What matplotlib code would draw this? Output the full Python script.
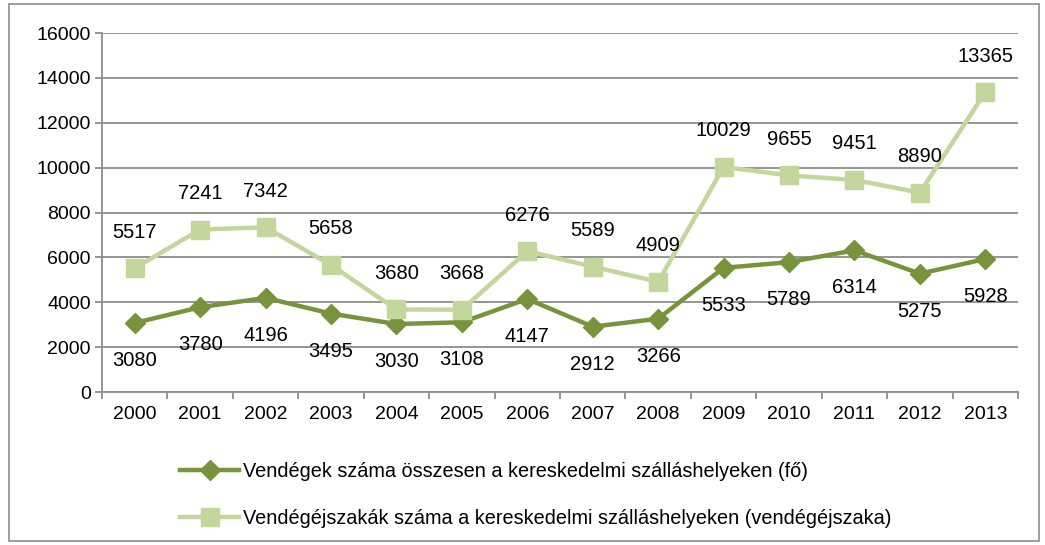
import matplotlib.pyplot as plt
from matplotlib.patches import Rectangle
import numpy as np

plt.rcParams["font.family"] = ["Liberation Sans", "DejaVu Sans"]

years = ["2000", "2001", "2002", "2003", "2004", "2005", "2006",
         "2007", "2008", "2009", "2010", "2011", "2012", "2013"]
guests = [3080, 3780, 4196, 3495, 3030, 3108, 4147,
          2912, 3266, 5533, 5789, 6314, 5275, 5928]
nights = [5517, 7241, 7342, 5658, 3680, 3668, 6276,
          5589, 4909, 10029, 9655, 9451, 8890, 13365]

guests_label = "Vendégek száma összesen a kereskedelmi szálláshelyeken (fő)"
nights_label = "Vendégéjszakák száma a kereskedelmi szálláshelyeken (vendégéjszaka)"

DARK = "#77933C"
LIGHT = "#C3D69B"
GRID = "#8C8C8C"

fig = plt.figure(figsize=(10.45, 5.45), dpi=100)
ax = fig.add_axes([0.0976, 0.2807, 0.8766, 0.6587])

x = np.arange(len(years))
ax.plot(x, guests, color=DARK, linewidth=3.2, marker="D", markersize=10,
        label=guests_label, zorder=3)
ax.plot(x, nights, color=LIGHT, linewidth=3.2, marker="s", markersize=13,
        label=nights_label, zorder=3)

for xi, v in zip(x, guests):
    ax.annotate(str(v), (xi, v), xytext=(0, -27), textcoords="offset points",
                ha="center", va="center", fontsize=14.5)
for xi, v in zip(x, nights):
    ax.annotate(str(v), (xi, v), xytext=(0, 26), textcoords="offset points",
                ha="center", va="center", fontsize=14.5)

ax.set_xlim(-0.5, len(years) - 0.5)
ax.set_ylim(0, 16000)
ax.set_yticks(np.arange(0, 16001, 2000))
ax.set_xticks(x)
ax.set_xticklabels(years)
ax.set_xticks(np.arange(-0.5, len(years), 1), minor=True)
ax.tick_params(axis="x", which="major", length=0, labelsize=14, pad=10)
ax.tick_params(axis="x", which="minor", length=5, width=1.3, color=GRID)
ax.tick_params(axis="y", length=5, width=1.3, color=GRID, labelsize=14, pad=3)

ax.grid(axis="y", color=GRID, linewidth=1.3)
ax.set_axisbelow(True)
for side in ("top", "right"):
    ax.spines[side].set_visible(False)
for side in ("left", "bottom"):
    ax.spines[side].set_color(GRID)
    ax.spines[side].set_linewidth(1.3)

fig.legend(loc="upper left", bbox_to_anchor=(0.155, 0.186), frameon=False,
           fontsize=14.3, handlelength=3.0, handletextpad=0.2, labelspacing=1.45)

fig.patches.append(Rectangle((0.009, 0.008), 0.985, 0.985, transform=fig.transFigure,
                             fill=False, edgecolor="#8C8C8C", linewidth=1.2))

fig.savefig("out.png", dpi=100)
